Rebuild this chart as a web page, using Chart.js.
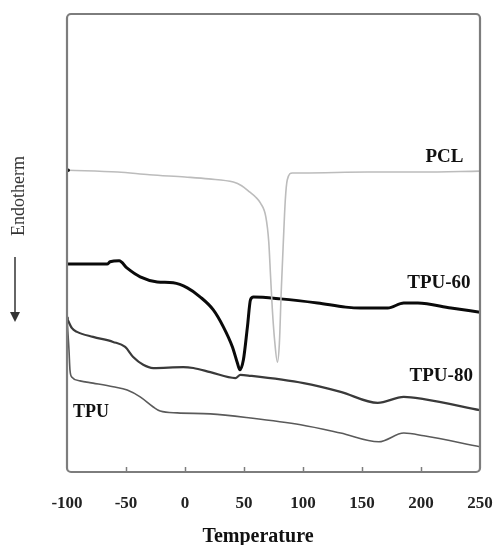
<!DOCTYPE html>
<html>
<head>
<meta charset="utf-8">
<script src="https://cdn.jsdelivr.net/npm/chart.js@4.4.1/dist/chart.umd.min.js"></script>
<style>
  html, body { margin: 0; padding: 0; background: #fff; }
  #wrap { width: 494px; height: 545px; }
</style>
</head>
<body>
<div id="wrap"><canvas id="dsc"></canvas></div>
<script>
const pclT = [-99, -57, -30, 0, 20, 41, 48, 55, 60, 64, 68.5, 71, 72.5, 74, 76, 78.3, 80, 81.5, 83.3, 85, 86.7, 91, 100, 155, 200, 250];
const pclV = [65.9, 65.5, 64.9, 64.4, 64.0, 63.3, 62.5, 61.1, 60.0, 58.7, 55.7, 50.2, 42.8, 35.6, 28.6, 24.0, 28.2, 39.1, 50.0, 59.4, 63.8, 65.3, 65.3, 65.5, 65.5, 65.7];

const tpu60T = [-100, -66, -63.5, -55.8, -49, -38, -23.5, -10, 2, 13, 24, 32.5, 40.2, 44.4, 46.5, 49.5, 52.9, 55.5, 58, 81, 112.4, 136.2, 149, 171.8, 185.4, 197.3, 225.4, 250];
const tpu60V = [45.4, 45.4, 45.9, 46.1, 44.5, 42.6, 41.5, 41.3, 40.2, 38.2, 35.4, 31.7, 27.3, 23.8, 22.3, 24.5, 31.7, 37.6, 38.2, 37.8, 36.9, 36.0, 35.8, 35.8, 36.9, 36.9, 35.8, 34.9];

const tpu80T = [-100, -95.8, -91.5, -77.9, -60.9, -50.7, -43.9, -35.4, -26.9, -1.5, 7, 21.5, 42.7, 47, 55.5, 100.5, 131.9, 163.3, 185.4, 202.4, 250];
const tpu80V = [33.6, 31.4, 30.6, 29.5, 28.4, 27.3, 25.1, 23.4, 22.7, 22.9, 22.7, 21.8, 20.5, 21.2, 21.0, 19.4, 17.5, 15.1, 16.4, 15.9, 13.5];

const tpuT = [-100, -98.3, -97.5, -95.8, -89, -77.9, -60.9, -49, -38, -26.9, -21, -6.6, 21.5, 55.5, 98, 131.9, 164.2, 185.4, 202.4, 250];
const tpuV = [33.6, 26.6, 22.3, 20.7, 19.9, 19.4, 18.6, 17.9, 16.4, 14.2, 13.3, 12.9, 12.7, 11.8, 10.3, 8.5, 6.6, 8.5, 7.9, 5.5];

const seriesNames = ["PCL", "TPU-60", "TPU-80", "TPU"];
const xTicks = [-100, -50, 0, 50, 100, 150, 200, 250];

const toPoints = (ts, vs) => ts.map((t, i) => ({ x: t, y: vs[i] }));

const SERIF = "'Liberation Serif', 'Times New Roman', serif";

// box, inner tick marks, labels and the endotherm arrow
const decorations = {
  id: "decorations",
  afterDraw(chart) {
    const { ctx, chartArea: a, scales } = chart;
    const xs = scales.x, ys = scales.y;

    ctx.save();
    ctx.strokeStyle = "#7d7d7d";
    ctx.lineWidth = 1.5;
    xTicks.slice(1, -1).forEach((t) => {
      const px = Math.round(xs.getPixelForValue(t)) + 0.5;
      ctx.beginPath();
      ctx.moveTo(px, a.bottom);
      ctx.lineTo(px, a.bottom - 5);
      ctx.stroke();
    });

    ctx.lineWidth = 2.2;
    ctx.beginPath();
    ctx.roundRect(a.left, a.top, a.right - a.left, a.bottom - a.top, 4);
    ctx.stroke();

    // series names
    ctx.fillStyle = "#111";
    ctx.textBaseline = "middle";
    const labels = [
      { text: seriesNames[0], t: 236, v: 68.8, align: "right", size: 19 },
      { text: seriesNames[1], t: 242, v: 41.3, align: "right", size: 19 },
      { text: seriesNames[2], t: 244, v: 21.0, align: "right", size: 19 },
      { text: seriesNames[3], t: -95, v: 13.1, align: "left", size: 18 }
    ];
    labels.forEach((l) => {
      ctx.font = `bold ${l.size}px ${SERIF}`;
      ctx.textAlign = l.align;
      ctx.fillText(l.text, xs.getPixelForValue(l.t), ys.getPixelForValue(l.v));
    });

    // axis title sits a bit left of the plot centre in the original
    ctx.font = `bold 20px ${SERIF}`;
    ctx.textAlign = "center";
    ctx.fillText("Temperature", 258, 537);

    // Endotherm label with arrow
    ctx.save();
    ctx.translate(19, 196);
    ctx.rotate(-Math.PI / 2);
    ctx.font = `18px ${SERIF}`;
    ctx.fillStyle = "#333";
    ctx.textAlign = "center";
    ctx.fillText("Endotherm", 0, 0);
    ctx.restore();

    ctx.strokeStyle = "#333";
    ctx.fillStyle = "#333";
    ctx.lineWidth = 1.5;
    ctx.beginPath();
    ctx.moveTo(15, 257);
    ctx.lineTo(15, 314);
    ctx.stroke();
    ctx.beginPath();
    ctx.moveTo(10, 312);
    ctx.lineTo(20, 312);
    ctx.lineTo(15, 322);
    ctx.closePath();
    ctx.fill();
    ctx.restore();
  }
};

const firstDot = (ctx) => (ctx.dataIndex === 0 ? 1.8 : 0);

new Chart(document.getElementById("dsc"), {
  type: "line",
  plugins: [decorations],
  data: {
    datasets: [
      {
        label: seriesNames[0],
        data: toPoints(pclT, pclV),
        borderColor: "#bcbcbc",
        borderWidth: 1.6,
        pointRadius: firstDot,
        pointBackgroundColor: "#111",
        pointBorderWidth: 0
      },
      {
        label: seriesNames[1],
        data: toPoints(tpu60T, tpu60V),
        borderColor: "#0a0a0a",
        borderWidth: 3,
        pointRadius: 0
      },
      {
        label: seriesNames[2],
        data: toPoints(tpu80T, tpu80V),
        borderColor: "#3a3a3a",
        borderWidth: 2.2,
        pointRadius: firstDot,
        pointBackgroundColor: "#222",
        pointBorderWidth: 0
      },
      {
        label: seriesNames[3],
        data: toPoints(tpuT, tpuV),
        borderColor: "#5a5a5a",
        borderWidth: 1.6,
        pointRadius: 0
      }
    ]
  },
  options: {
    responsive: true,
    maintainAspectRatio: false,
    animation: false,
    layout: { padding: { left: 67, right: 14, top: 14, bottom: 0 } },
    elements: { line: { cubicInterpolationMode: "monotone", fill: false } },
    plugins: {
      legend: { display: false },
      tooltip: { enabled: false }
    },
    scales: {
      x: {
        type: "linear",
        min: -100,
        max: 250,
        afterBuildTicks: (scale) => {
          scale.ticks = xTicks.map((v) => ({ value: v }));
        },
        afterFit: (scale) => {
          scale.height = 73;
          scale.paddingLeft = 0;
          scale.paddingRight = 0;
        },
        grid: { display: false, drawTicks: false },
        border: { display: false },
        ticks: {
          padding: 21,
          color: "#222",
          font: { family: SERIF, size: 17, weight: "bold" }
        },
        title: { display: false }
      },
      y: {
        display: false,
        min: 0,
        max: 100
      }
    }
  }
});
</script>
</body>
</html>
